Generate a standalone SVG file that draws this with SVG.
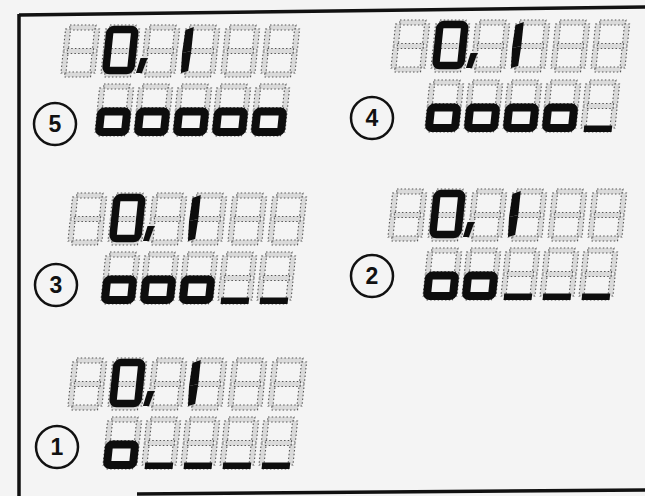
<svg xmlns="http://www.w3.org/2000/svg" xmlns:xlink="http://www.w3.org/1999/xlink" width="645" height="496" viewBox="0 0 645 496">
<style>
  .bg { fill: #f4f4f4; }
  .frame { fill: none; stroke: #111; stroke-width: 3.5; }
  .faint rect { fill: #dadada; stroke: #555; stroke-width: 1.1; stroke-dasharray: 1.5 2.2; }
  .bold { fill: #0d0d0d; }
  .boldline { fill: none; stroke: #0d0d0d; }
  .badge { fill: none; stroke: #111; stroke-width: 2.5; }
  .num { font-family: "Liberation Sans", Arial, sans-serif; font-weight: bold; font-size: 23px; fill: #111; text-anchor: middle; }
</style>
<defs>
  <g id="d8" class="faint">
    <rect x="4" y="0" width="26" height="5"/>
    <rect x="29" y="4" width="5" height="21"/>
    <rect x="29" y="27" width="5" height="21"/>
    <rect x="4" y="47" width="26" height="5"/>
    <rect x="0" y="27" width="5" height="21"/>
    <rect x="0" y="4" width="5" height="21"/>
    <rect x="4" y="23.5" width="26" height="5"/>
  </g>
  <rect id="zero" class="boldline" x="4.5" y="4.5" width="25" height="41" rx="4" stroke-width="7.5"/>
  <g id="one" class="bold">
    <path d="M0,5 L8,2 L8,26 L-1,28 Z"/>
    <path d="M-1,28 L8,26 L7,46 L0,48 Z"/>
  </g>
  <path id="comma" class="bold" d="M-2,33 L5,33 L1,48 L-5,48 Z"/>
  <rect id="lo" class="boldline" x="4" y="27.5" width="26" height="20.5" rx="3" stroke-width="8"/>
  <rect id="us" class="bold" x="3" y="45.5" width="28" height="6.5"/>
  <g id="upper">
    <use xlink:href="#d8" x="0"/>
    <use xlink:href="#d8" x="40"/>
    <use xlink:href="#d8" x="80"/>
    <use xlink:href="#d8" x="120"/>
    <use xlink:href="#d8" x="160"/>
    <use xlink:href="#d8" x="200"/>
    <use xlink:href="#zero" x="40"/>
    <use xlink:href="#comma" x="80"/>
    <use xlink:href="#one" x="120"/>
  </g>
  <g id="lower">
    <use xlink:href="#d8" x="0"/>
    <use xlink:href="#d8" x="39"/>
    <use xlink:href="#d8" x="78"/>
    <use xlink:href="#d8" x="117"/>
    <use xlink:href="#d8" x="156"/>
  </g>
</defs>

<rect class="bg" x="0" y="0" width="645" height="496"/>

<g id="frame">
  <path class="frame" d="M19,15 L645,7"/>
  <path class="frame" d="M19,14 L19,496"/>
  <path class="frame" d="M137,494 L645,490"/>
</g>

<g id="display5">
  <circle class="badge" cx="55" cy="124" r="21"/>
  <text class="num" x="55" y="132">5</text>
  <g transform="translate(66,25) skewX(-6)"><use xlink:href="#upper"/></g>
  <g transform="translate(100,84) skewX(-6)">
    <use xlink:href="#lower"/>
    <use xlink:href="#lo" x="0"/><use xlink:href="#lo" x="39"/><use xlink:href="#lo" x="78"/><use xlink:href="#lo" x="117"/><use xlink:href="#lo" x="156"/>
  </g>
</g>

<g id="display4">
  <circle class="badge" cx="372" cy="118" r="21"/>
  <text class="num" x="372" y="126">4</text>
  <g transform="translate(396,20) skewX(-6)"><use xlink:href="#upper"/></g>
  <g transform="translate(430,80) skewX(-6)">
    <use xlink:href="#lower"/>
    <use xlink:href="#lo" x="0"/><use xlink:href="#lo" x="39"/><use xlink:href="#lo" x="78"/><use xlink:href="#lo" x="117"/><use xlink:href="#us" x="156"/>
  </g>
</g>

<g id="display3">
  <circle class="badge" cx="56" cy="285" r="21"/>
  <text class="num" x="56" y="293">3</text>
  <g transform="translate(73,193) skewX(-6)"><use xlink:href="#upper"/></g>
  <g transform="translate(106,252) skewX(-6)">
    <use xlink:href="#lower"/>
    <use xlink:href="#lo" x="0"/><use xlink:href="#lo" x="39"/><use xlink:href="#lo" x="78"/><use xlink:href="#us" x="117"/><use xlink:href="#us" x="156"/>
  </g>
</g>

<g id="display2">
  <circle class="badge" cx="372" cy="276" r="21"/>
  <text class="num" x="372" y="284">2</text>
  <g transform="translate(393,189) skewX(-6)"><use xlink:href="#upper"/></g>
  <g transform="translate(428,248) skewX(-6)">
    <use xlink:href="#lower"/>
    <use xlink:href="#lo" x="0"/><use xlink:href="#lo" x="39"/><use xlink:href="#us" x="78"/><use xlink:href="#us" x="117"/><use xlink:href="#us" x="156"/>
  </g>
</g>

<g id="display1">
  <circle class="badge" cx="57" cy="447" r="21"/>
  <text class="num" x="57" y="455">1</text>
  <g transform="translate(73,358) skewX(-6)"><use xlink:href="#upper"/></g>
  <g transform="translate(108,417) skewX(-6)">
    <use xlink:href="#lower"/>
    <use xlink:href="#lo" x="0"/><use xlink:href="#us" x="39"/><use xlink:href="#us" x="78"/><use xlink:href="#us" x="117"/><use xlink:href="#us" x="156"/>
  </g>
</g>
</svg>
